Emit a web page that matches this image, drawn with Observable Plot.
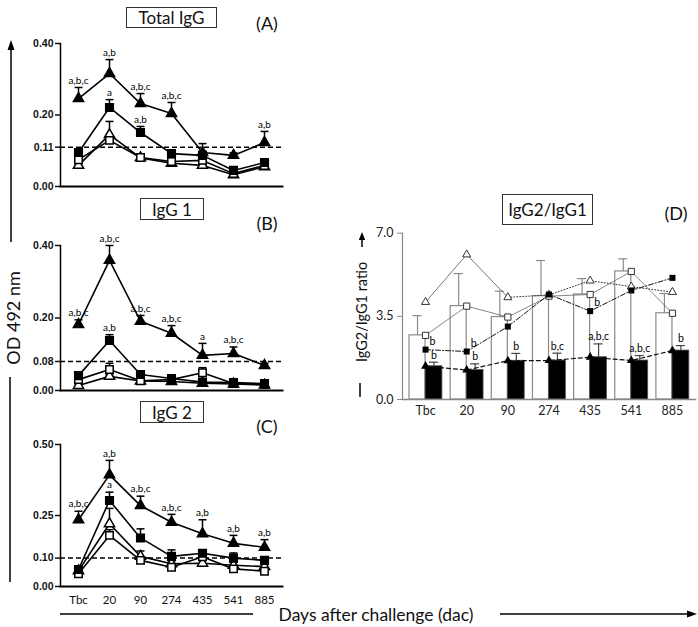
<!DOCTYPE html>
<html><head><meta charset="utf-8">
<script src="https://cdn.jsdelivr.net/npm/d3@7"></script>
<script src="https://cdn.jsdelivr.net/npm/@observablehq/plot@0.6"></script>
<style>
body{margin:0;background:#fff;}
#fig{position:relative;width:698px;height:627px;font-family:Lato,"Open Sans",sans-serif;color:#111;overflow:hidden;background:#fff;}
.box{position:absolute;border:1px solid #333;box-sizing:border-box;display:flex;align-items:center;justify-content:center;font-size:16px;background:#fff;line-height:1;}
.t{position:absolute;transform:translate(-50%,-50%);white-space:nowrap;line-height:1;}
.pl{position:absolute;}
</style></head>
<body><div id="fig"></div>
<script>
const days = ["Tbc","20","90","274","435","541","885"];

// Panel A: Total IgG
const aFTri = [0.246, 0.316, 0.232, 0.204, 0.095, 0.087, 0.123];
const aFTriTop = [0.277, 0.355, 0.260, 0.235, 0.120, 0.094, 0.154];
const aFTriLab = ["a,b,c","a,b","a,b,c","a,b,c","","","a,b"];
const aFSq = [0.095, 0.221, 0.151, 0.092, 0.087, 0.045, 0.067];
const aFSqTop = [0.103, 0.243, 0.168, 0.100, 0.098, 0.050, 0.072];
const aFSqLab = ["","a","a,b","","","",""];
const aOSq = [0.075, 0.129, 0.081, 0.070, 0.073, 0.036, 0.059];
const aOSqTop = [0.082, 0.136, 0.086, 0.075, 0.078, 0.040, 0.063];
const aOTri = [0.059, 0.145, 0.080, 0.065, 0.059, 0.033, 0.055];
const aOTriTop = [0.064, 0.182, 0.085, 0.070, 0.064, 0.037, 0.059];

// Panel B: IgG 1
const bFTri = [0.182, 0.359, 0.191, 0.158, 0.097, 0.102, 0.069];
const bFTriTop = [0.195, 0.400, 0.207, 0.179, 0.130, 0.120, 0.075];
const bFTriLab = ["a,b,c","a,b,c","a,b,c","a,b,c","a","a,b,c",""];
const bFSq = [0.041, 0.138, 0.044, 0.033, 0.023, 0.022, 0.019];
const bFSqTop = [0.046, 0.154, 0.048, 0.037, 0.027, 0.025, 0.022];
const bFSqLab = ["","a,b","","","","",""];
const bOSq = [0.030, 0.058, 0.027, 0.030, 0.049, 0.019, 0.017];
const bOSqTop = [0.034, 0.075, 0.030, 0.034, 0.063, 0.022, 0.020];
const bOTri = [0.014, 0.039, 0.026, 0.025, 0.020, 0.018, 0.015];
const bOTriTop = [0.017, 0.043, 0.029, 0.028, 0.023, 0.021, 0.018];

// Panel C: IgG 2
const cFTri = [0.235, 0.393, 0.285, 0.226, 0.186, 0.152, 0.138];
const cFTriTop = [0.265, 0.444, 0.318, 0.254, 0.235, 0.180, 0.165];
const cFTriLab = ["a,b,c","a,b","a,b,c","a,b,c","a,b","a,b","a,b"];
const cFSq = [0.060, 0.303, 0.171, 0.106, 0.117, 0.100, 0.092];
const cFSqTop = [0.066, 0.332, 0.203, 0.129, 0.125, 0.118, 0.100];
const cFSqLab = ["","a","","","","",""];
const cOTri = [0.055, 0.221, 0.106, 0.080, 0.082, 0.075, 0.070];
const cOTriTop = [0.060, 0.275, 0.125, 0.090, 0.092, 0.085, 0.080];
const cOSq = [0.045, 0.180, 0.092, 0.068, 0.105, 0.062, 0.054];
const cOSqTop = [0.050, 0.200, 0.100, 0.075, 0.115, 0.070, 0.060];

// Panel D: IgG2/IgG1 ratio
const dOTri = [4.10, 6.10, 4.30, 4.40, 5.00, 4.75, 4.52];
const dOSq = [2.70, 3.93, 3.47, 4.35, 4.42, 5.39, 3.63];
const dOSqTop = [3.53, 5.30, 4.56, 5.85, 5.09, 5.92, 4.46];
const dFSq = [2.10, 2.02, 3.07, 4.42, 3.72, 4.59, 5.12];
const dFSqLab = ["b","b","","","b","",""];
const dFTri = [1.40, 1.24, 1.63, 1.64, 1.78, 1.64, 2.06];
const dFTriTop = [1.57, 1.50, 1.94, 1.95, 2.34, 1.85, 2.27];
const dFTriLab = ["b","b","b","b,c","a,b,c","a,b,c","b"];

const fig = document.getElementById("fig");
const capSym = {draw(ctx, size){const w = Math.sqrt(size)/2; ctx.moveTo(-w,0); ctx.lineTo(w,0);}};

function rowsOf(v, top, lab){ return days.map((d,i)=>({day:d, v:v[i], top:top[i], label: lab ? lab[i] : ""})); }

function linePanel(o){
  const S = [
    {rows: rowsOf(o.ftri[0], o.ftri[1], o.ftri[2]), sym:"triangle", fill:"black", r:3.8},
    {rows: rowsOf(o.fsq[0], o.fsq[1], o.fsq[2]), sym:"square", fill:"black", r:4.3},
    {rows: rowsOf(o.osq[0], o.osq[1]), sym:"square", fill:"white", r:4.2},
    {rows: rowsOf(o.otri[0], o.otri[1]), sym:"triangle", fill:"white", r:3.8}
  ];
  const marks = [
    Plot.ruleY([o.thr], {stroke:"black", strokeWidth:1.5, strokeDasharray:"5,3"})
  ];
  for (const s of S) marks.push(Plot.line(s.rows, {x:"day", y:"v", stroke:"black", strokeWidth:1.6}));
  for (const s of S) {
    marks.push(Plot.ruleX(s.rows, {x:"day", y1:"v", y2:"top", stroke:"black", strokeWidth:1.5}));
    marks.push(Plot.dot(s.rows, {x:"day", y:"top", symbol:capSym, r:4.5, stroke:"black", strokeWidth:1.5}));
  }
  for (const s of S.slice().reverse()) marks.push(Plot.dot(s.rows, {x:"day", y:"v", symbol:s.sym, r:s.r, fill:s.fill, stroke:"black", strokeWidth:1.5}));
  for (const s of S) marks.push(Plot.text(s.rows.filter(d=>d.label), {x:"day", y:"top", text:"label", dy:-7, fontSize:10, fill:"black"}));
  marks.push(Plot.axisY({ticks:o.yticks, tickFormat:d3.format(".2f"), tickSize:5, tickPadding:2, fontSize:10.5, fontWeight:"bold", fontFamily:"Liberation Sans", label:null, strokeWidth:1.5}));
  marks.push(Plot.frame({anchor:"left", stroke:"black", strokeWidth:1.5}));
  marks.push(Plot.frame({anchor:"bottom", stroke:"black", strokeWidth:2}));
  if (o.xaxis) marks.push(Plot.axisX({tickSize:0, tickPadding:9, fontSize:11.5, label:null}));
  const p = Plot.plot({
    width:300, height:o.height, marginTop:o.mt, marginBottom:o.mb, marginLeft:60, marginRight:18,
    x:{type:"point", domain:days, padding:0.5, axis:null},
    y:{domain:o.ydomain},
    style:{background:"transparent", fontFamily:"Lato", overflow:"visible"},
    marks
  });
  p.classList.add("pl"); p.style.left = "0px"; p.style.top = o.top + "px";
  fig.appendChild(p);
}

linePanel({top:0, height:190, mt:43, mb:4, ydomain:[0,0.40], yticks:[0,0.11,0.20,0.40], thr:0.11,
  ftri:[aFTri,aFTriTop,aFTriLab], fsq:[aFSq,aFSqTop,aFSqLab], osq:[aOSq,aOSqTop], otri:[aOTri,aOTriTop]});
linePanel({top:200, height:194, mt:45, mb:4, ydomain:[0,0.40], yticks:[0,0.08,0.20,0.40], thr:0.08,
  ftri:[bFTri,bFTriTop,bFTriLab], fsq:[bFSq,bFSqTop,bFSqLab], osq:[bOSq,bOSqTop], otri:[bOTri,bOTriTop]});
linePanel({top:400, height:210, mt:44, mb:24, ydomain:[0,0.50], yticks:[0,0.10,0.25,0.50], thr:0.10, xaxis:true,
  ftri:[cFTri,cFTriTop,cFTriLab], fsq:[cFSq,cFSqTop,cFSqLab], osq:[cOSq,cOSqTop], otri:[cOTri,cOTriTop]});

// Panel D
const dRows = days.map((d,i)=>({i, day:d, oTri:dOTri[i], oSq:dOSq[i], oTop:dOSqTop[i], fSq:dFSq[i], fSqLab:dFSqLab[i], fTri:dFTri[i], fTop:dFTriTop[i], fLab:dFTriLab[i]}));
const bw = 0.39, bw2 = 0.41;
const pD = Plot.plot({
  width:358, height:200, marginTop:7.7, marginBottom:26, marginLeft:62, marginRight:3,
  x:{type:"linear", domain:[-0.56,6.56], axis:null},
  y:{domain:[0,7], axis:null},
  style:{background:"transparent", fontFamily:"Lato", overflow:"visible", color:"#222"},
  marks:[
    Plot.rect(dRows, {x1:d=>d.i-bw, x2:"i", y1:0, y2:"oSq", fill:"white", stroke:"#8a8a8a", strokeWidth:1.2}),
    Plot.ruleX(dRows, {x:d=>d.i-bw/2, y1:"oSq", y2:"oTop", stroke:"#8a8a8a", strokeWidth:1.2}),
    Plot.ruleY(dRows, {x1:d=>d.i-bw/2-0.11, x2:d=>d.i-bw/2+0.11, y:"oTop", stroke:"#8a8a8a", strokeWidth:1.2}),
    Plot.rect(dRows, {x1:"i", x2:d=>d.i+bw2, y1:0, y2:"fTri", fill:"black", stroke:"#555", strokeWidth:0.8}),
    Plot.ruleX(dRows, {x:d=>d.i+bw2/2, y1:"fTri", y2:"fTop", stroke:"#444", strokeWidth:1.2}),
    Plot.ruleY(dRows, {x1:d=>d.i+bw2/2-0.11, x2:d=>d.i+bw2/2+0.11, y:"fTop", stroke:"#444", strokeWidth:1.2}),
    Plot.line(dRows.slice(0,3), {x:"i", y:"oTri", stroke:"#555", strokeWidth:0.8}),
    Plot.line(dRows.slice(2), {x:"i", y:"oTri", stroke:"#333", strokeWidth:1, strokeDasharray:"1,2"}),
    Plot.line(dRows, {x:"i", y:"oSq", stroke:"#666", strokeWidth:0.8}),
    Plot.line(dRows, {x:"i", y:"fSq", stroke:"#111", strokeWidth:1, strokeDasharray:"5,2,1,2"}),
    Plot.line(dRows, {x:"i", y:"fTri", stroke:"#111", strokeWidth:1.2, strokeDasharray:"4,3"}),
    Plot.dot(dRows, {x:"i", y:"oTri", symbol:"triangle", r:3, fill:"white", stroke:"#333", strokeWidth:1}),
    Plot.dot(dRows, {x:"i", y:"oSq", symbol:"square", r:3.5, fill:"white", stroke:"#333", strokeWidth:1}),
    Plot.dot(dRows, {x:"i", y:"fSq", symbol:"square", r:3.4, fill:"black"}),
    Plot.dot(dRows, {x:"i", y:"fTri", symbol:"triangle", r:3.3, fill:"black"}),
    Plot.text(dRows.filter(d=>d.fSqLab), {x:"i", y:"fSq", text:"fSqLab", dx:4, dy:-8, textAnchor:"start", fontSize:10.5, fill:"black"}),
    Plot.text(dRows, {x:d=>d.i+bw2/2, y:"fTop", text:"fLab", dy:-7, fontSize:10.5, fill:"black"}),
    Plot.axisY({ticks:[0,3.5,7], tickFormat:d3.format(".1f"), tickSize:5, tickPadding:4, stroke:"#888", fontSize:12.5, label:null}),
    Plot.axisX({ticks:d3.range(7), tickFormat:i=>days[i], tickSize:0, tickPadding:7, fontSize:12.5, label:null}),
    Plot.frame({anchor:"left", stroke:"#888", strokeWidth:1.2}),
    Plot.frame({anchor:"bottom", stroke:"#888", strokeWidth:1.5})
  ]
});
pD.classList.add("pl"); pD.style.left = "340px"; pD.style.top = "225px";
fig.appendChild(pD);

// Overlay: arrows
const ov = d3.select(fig).append("svg").attr("width",698).attr("height",627)
  .style("position","absolute").style("left","0px").style("top","0px").style("pointer-events","none");
const L = (x1,y1,x2,y2,w)=>ov.append("line").attr("x1",x1).attr("y1",y1).attr("x2",x2).attr("y2",y2).attr("stroke","black").attr("stroke-width",w||1.5);
const P = pts=>ov.append("polygon").attr("points",pts).attr("fill","black");
L(11,48,11,242); P("11,40 7.5,50 14.5,50");
L(10,377,10,582);
L(60,614,253,614);
L(500,614,688,614); P("697,614 687,610.5 687,617.5");
L(362,247,362,238); P("362,232 358.8,240 365.2,240");
L(360,383,360,397);

// Text overlays
function box(txt,l,t,w,h,fs){const e=document.createElement("div");e.className="box";e.textContent=txt;Object.assign(e.style,{left:l+"px",top:t+"px",width:w+"px",height:h+"px",fontSize:fs+"px"});fig.appendChild(e);}
function txt(s,x,y,fs,rot){const e=document.createElement("div");e.className="t";e.textContent=s;Object.assign(e.style,{left:x+"px",top:y+"px",fontSize:fs+"px"});if(rot)e.style.transform="translate(-50%,-50%) rotate(-90deg)";fig.appendChild(e);}
box("Total IgG",126,7,91,21,17);
box("IgG 1",140,198,64,22,17);
box("IgG 2",140,401,64,22,17);
box("IgG2/IgG1",502,194,91,31,17);
txt("(A)",267,23,18);
txt("(B)",267,223,18);
txt("(C)",267,426,18);
txt("(D)",676,213,18);
txt("OD 492 nm",13,318,18,true);
txt("IgG2/IgG1 ratio",362,312,14.5,true);
txt("Days after challenge (dac)",376,615,17.5);
</script>
</body></html>
